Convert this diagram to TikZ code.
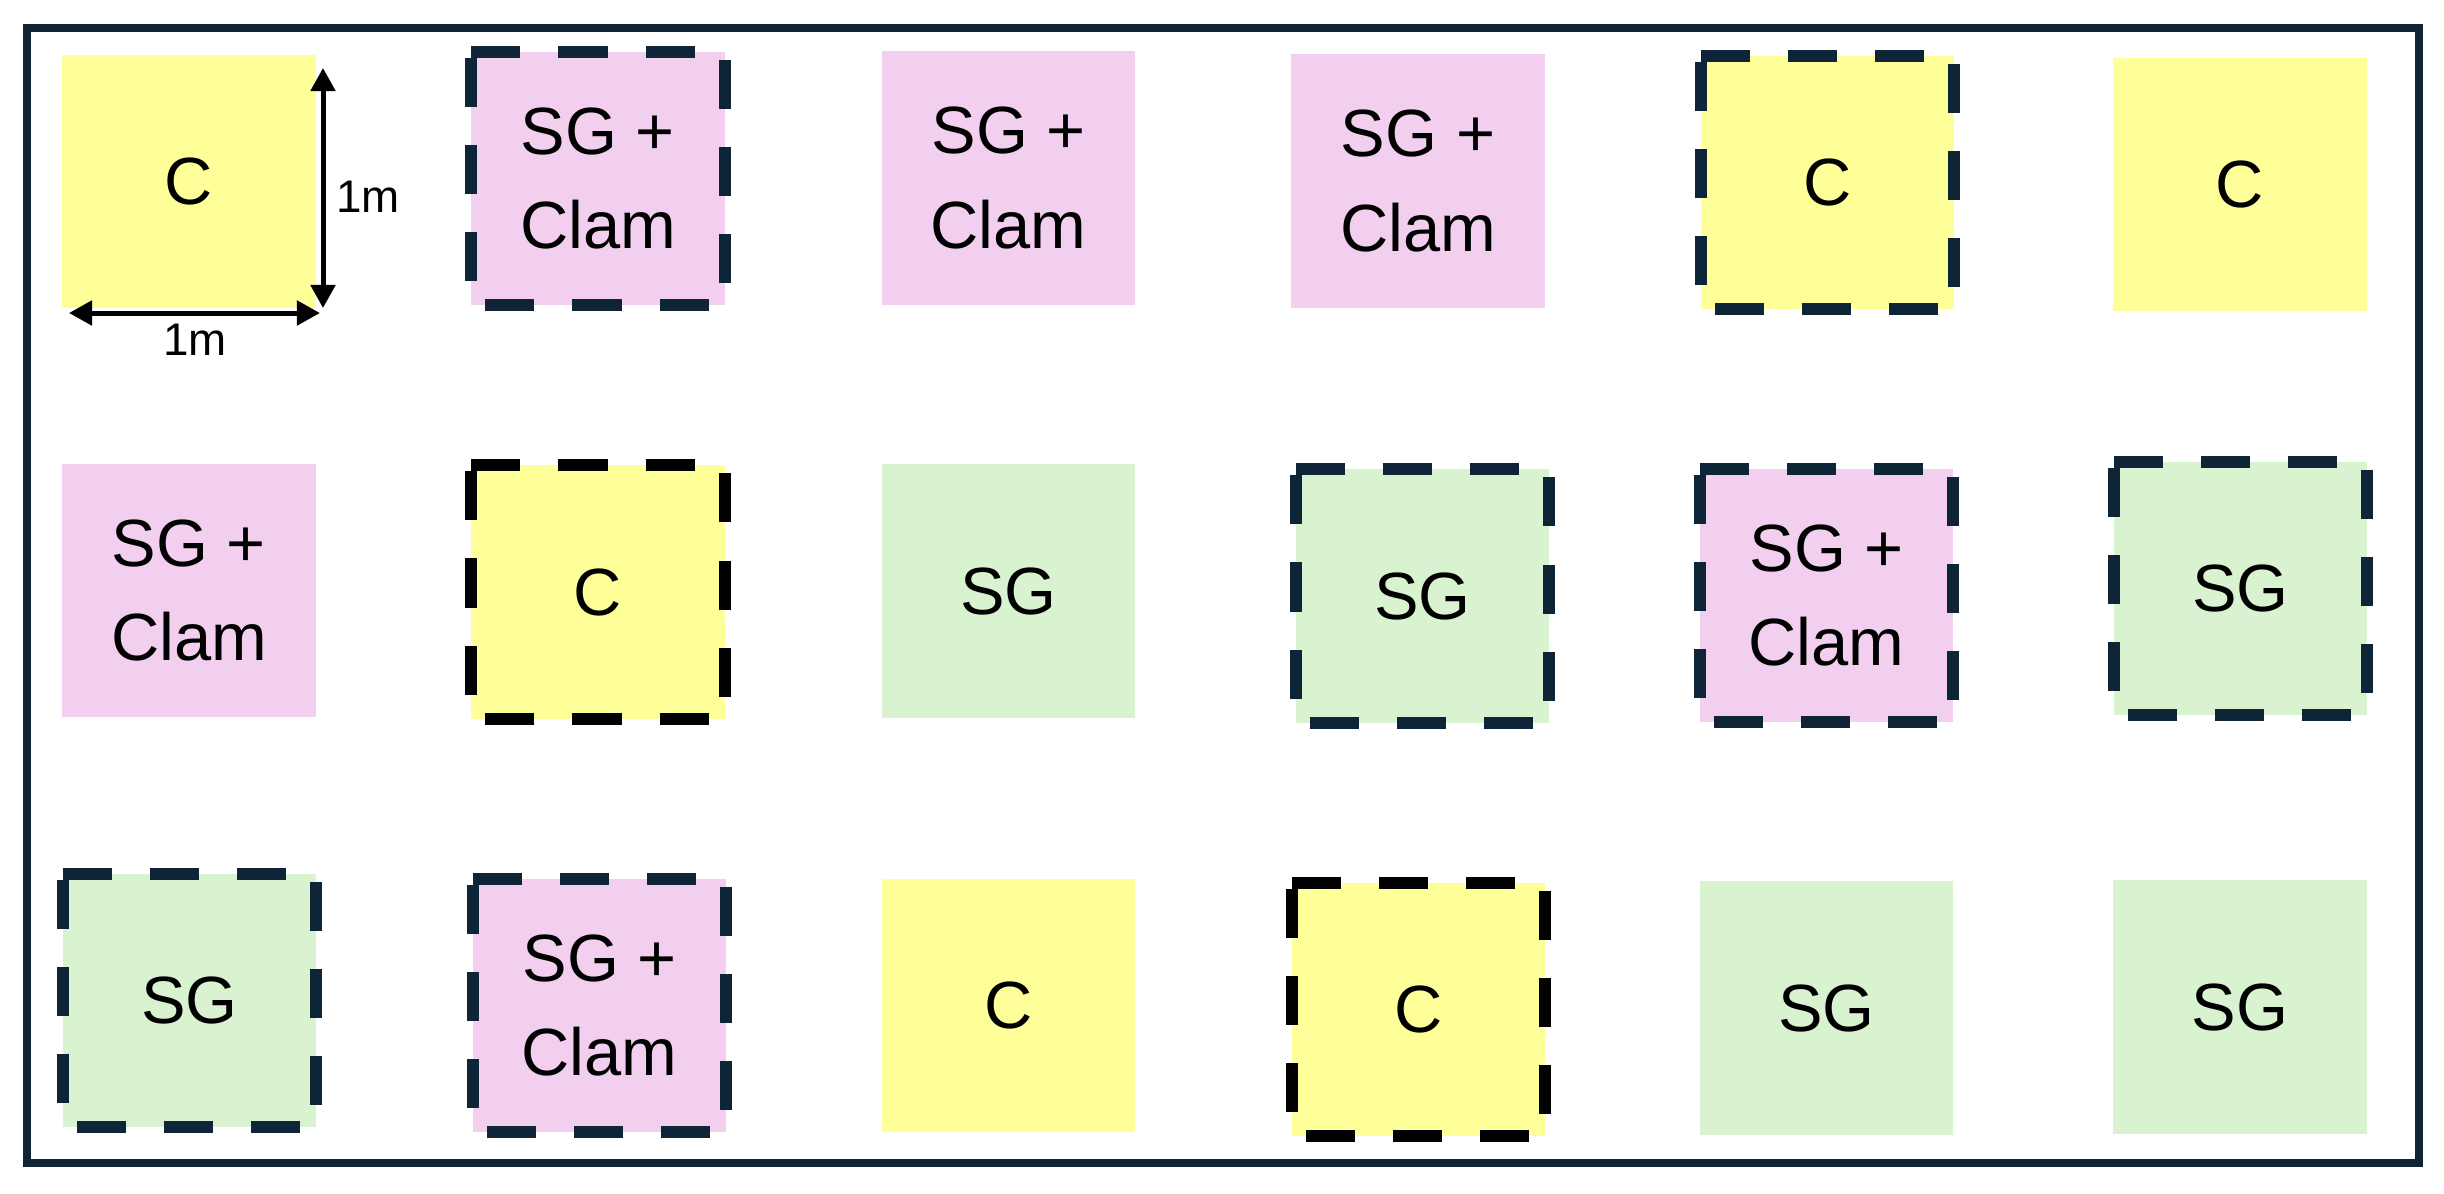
\documentclass[tikz,border=0pt]{standalone}
\usepackage{fontspec}
\setmainfont{Liberation Sans}
\usetikzlibrary{arrows.meta}
\definecolor{yel}{HTML}{FFFF99}
\definecolor{pnk}{HTML}{F2CFEE}
\definecolor{grn}{HTML}{D9F2D0}
\definecolor{navy}{HTML}{0D2536}
\newcommand\dashout[2]{\draw[#1] (#2.north west) -- (#2.north east) -- (#2.south east) -- (#2.south west) -- cycle;}
\begin{document}
\begin{tikzpicture}[x=0.01cm,y=-0.01cm,
  plotbox/.style={inner sep=0pt, outer sep=0pt, minimum width=2.53cm, minimum height=2.53cm,
    align=center, font=\fontsize{19pt}{27pt}\selectfont},
  cbox/.style={plotbox, fill=yel},
  pbox/.style={plotbox, fill=pnk},
  gbox/.style={plotbox, fill=grn},
  navyedge/.style={draw=navy, line width=0.12cm, dash pattern=on 0.49cm off 0.38cm, line join=miter},
  blackedge/.style={navyedge, draw=black},
  dimline/.style={draw=black, line width=0.05cm, {Triangle[length=0.23cm,width=0.24cm]}-{Triangle[length=0.23cm,width=0.24cm]}},
  dimlabel/.style={inner sep=0pt, font=\fontsize{13pt}{15pt}\selectfont}]
\useasboundingbox (0,0) rectangle (2444,1193);
\fill[white] (0,0) rectangle (2444,1193);
\draw[navy, line width=0.08cm] (27,28) rectangle (2419,1163);
% row 1
\node[cbox] (r1c1) at (189,181.5) {C};
\node[pbox] (r1c2) at (598,178.5) {SG +\\Clam};
\node[pbox] (r1c3) at (1008.5,178) {SG +\\Clam};
\node[pbox] (r1c4) at (1418,181) {SG +\\Clam};
\node[cbox] (r1c5) at (1827.5,182.5) {C};
\node[cbox] (r1c6) at (2240,184.5) {C};
% row 2
\node[pbox] (r2c1) at (189,590.5) {SG +\\Clam};
\node[cbox] (r2c2) at (598,592) {C};
\node[gbox] (r2c3) at (1008.5,591) {SG};
\node[gbox] (r2c4) at (1422.5,596) {SG};
\node[pbox] (r2c5) at (1826.5,595.5) {SG +\\Clam};
\node[gbox] (r2c6) at (2240.5,588.5) {SG};
% row 3
\node[gbox] (r3c1) at (189.5,1000.5) {SG};
\node[pbox] (r3c2) at (599.5,1005.5) {SG +\\Clam};
\node[cbox] (r3c3) at (1008.5,1005.5) {C};
\node[cbox] (r3c4) at (1418.5,1009.5) {C};
\node[gbox] (r3c5) at (1826.5,1008) {SG};
\node[gbox] (r3c6) at (2240,1007) {SG};
% dashed outlines
\dashout{navyedge}{r1c2}
\dashout{navyedge}{r1c5}
\dashout{blackedge}{r2c2}
\dashout{navyedge}{r2c4}
\dashout{navyedge}{r2c5}
\dashout{navyedge}{r2c6}
\dashout{navyedge}{r3c1}
\dashout{navyedge}{r3c2}
\dashout{blackedge}{r3c4}
% dimension arrows
\coordinate (vtop) at (323,68);
\coordinate (vbot) at (323,308);
\coordinate (hleft) at (69,313);
\coordinate (hright) at (320,313);
\draw[dimline] (vtop) -- (vbot);
\draw[dimline] (hleft) -- (hright);
\node[dimlabel] (vlab) at (368,197) {1m};
\node[dimlabel] (hlab) at (195,340) {1m};
\end{tikzpicture}
\end{document}
